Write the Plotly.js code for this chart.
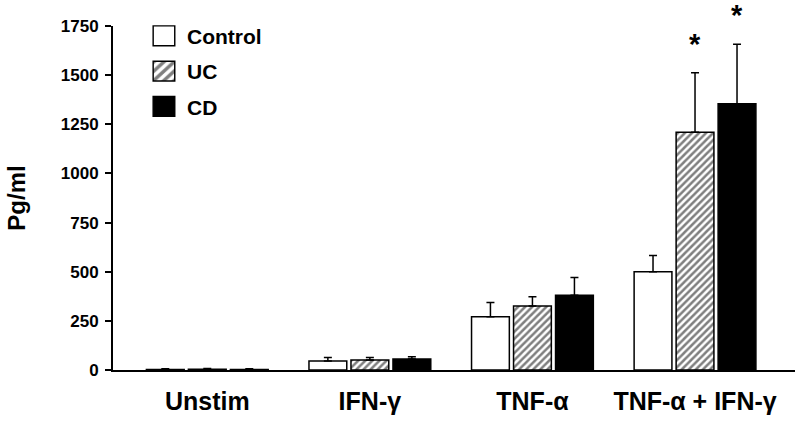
<!DOCTYPE html>
<html>
<head>
<meta charset="utf-8">
<script src="https://cdn.plot.ly/plotly-3.0.1.min.js"></script>
<style>html,body{margin:0;padding:0;background:#fff;}#chart{width:800px;height:425px;}</style>
</head>
<body>
<div id="chart"></div>
<script>
const categories = ["Unstim", "IFN-γ", "TNF-α", "TNF-α + IFN-γ"];
const seriesNames = ["Control", "UC", "CD"];
const controlValues = [3, 46, 271, 500];
const controlErrors = [3, 17, 73, 83];
const ucValues = [4, 51, 325, 1209];
const ucErrors = [4, 13, 48, 303];
const cdValues = [3, 56, 380, 1354];
const cdErrors = [3, 12, 91, 303];
const yTicks = [0, 250, 500, 750, 1000, 1250, 1500, 1750];
const significant = [[false, false, false, false], [false, false, false, true], [false, false, false, true]];

const FONT = "Arial, 'Liberation Sans', sans-serif";
const allValues = [controlValues, ucValues, cdValues];
const allErrors = [controlErrors, ucErrors, cdErrors];
const styles = [
  {color: "#ffffff", pattern: {shape: ""}},
  {color: "#ffffff", pattern: {shape: "/", fgcolor: "#000000", bgcolor: "#ffffff", size: 5, solidity: 0.5, fillmode: "overlay"}},
  {color: "#000000", pattern: {shape: ""}}
];

const traces = seriesNames.map((name, i) => ({
  type: "bar",
  name: name,
  x: categories,
  y: allValues[i],
  legendgroup: name,
  marker: {color: styles[i].color, pattern: styles[i].pattern, line: {color: "#000000", width: 1.5}},
  error_y: {type: "data", symmetric: false, array: allErrors[i], arrayminus: allValues[i].map(() => 0),
            color: "#000000", thickness: 1.5, width: 4},
  hoverinfo: "x+y+name"
}));

const annotations = [];
const offsets = [-42, 0, 42];
significant.forEach((row, s) => row.forEach((sig, c) => {
  if (sig) annotations.push({
    x: categories[c], y: allValues[s][c] + allErrors[s][c], xref: "x", yref: "y",
    xshift: offsets[s], yshift: 11, yanchor: "bottom", text: "*", showarrow: false,
    font: {family: FONT, size: 29, color: "#000", weight: "bold"}
  });
}));

const layout = {
  width: 800, height: 425,
  margin: {l: 113, r: 5, t: 26, b: 55},
  paper_bgcolor: "#ffffff", plot_bgcolor: "#ffffff",
  barmode: "group", bargap: 0.225, bargroupgap: 0.1,
  showlegend: true,
  legend: {x: 0.041, y: 1.03, xanchor: "left", yanchor: "top", traceorder: "grouped", tracegroupgap: 5,
           font: {family: FONT, size: 21, color: "#000", weight: "bold"}, bgcolor: "rgba(0,0,0,0)", itemwidth: 36},
  xaxis: {type: "category", range: [-0.58, 3.615], showline: true, linecolor: "#000", linewidth: 2,
          showgrid: false, zeroline: false, ticks: "", fixedrange: true,
          tickfont: {family: FONT, size: 25, color: "#000", weight: "bold"}, ticklabelstandoff: 8},
  yaxis: {range: [0, 1750], tickvals: yTicks, ticktext: yTicks.map(String), showline: true, linecolor: "#000", linewidth: 2,
          showgrid: false, zeroline: false, ticks: "outside", ticklen: 6, tickwidth: 2, tickcolor: "#000",
          ticklabelstandoff: 3,
          tickfont: {family: FONT, size: 17, color: "#000", weight: "bold"},
          title: {text: "Pg/ml", font: {family: FONT, size: 24, color: "#000", weight: "bold"}, standoff: 28}},
  annotations: annotations
};

Plotly.newPlot("chart", traces, layout, {staticPlot: true}).then(gd => {
  gd.querySelectorAll(".legend .legendpoints path").forEach(p => {
    const t = p.getAttribute("transform") || "";
    p.setAttribute("transform", t + " scale(1.8,1.65)");
    p.style.strokeWidth = "0.8px";
  });
});
</script>
</body>
</html>
